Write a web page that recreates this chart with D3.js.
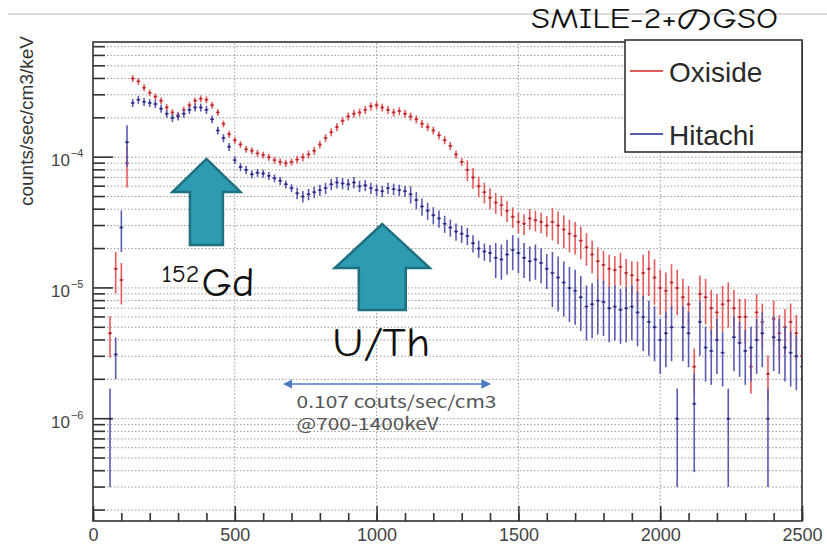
<!DOCTYPE html>
<html>
<head>
<meta charset="utf-8">
<script src="https://cdn.jsdelivr.net/npm/d3@7"></script>
<style>
  body { margin: 0; background: #fff; }
  svg { display: block; }
</style>
</head>
<body>
<div id="chart"></div>
<script>
// Bin centres in keV (20 keV bins)
const binCenters = d3.range(60, 2501, 20);

// Rates, in units of 1e-5 counts/sec/cm3/keV
const oxisideRate = [
  0.45, 1.4, 1.15, 9.0, 40, 38, 34, 31, 29, 27,
  24, 22, 21, 23, 25, 27, 28, 27.5, 25, 22,
  18, 15, 13.5, 12.5, 11.5, 11.2, 10.7, 10.4, 10.0, 9.5,
  9.2, 9.0, 9.2, 9.6, 10.0, 10.5, 11.2, 12.5, 14.0, 15.5,
  17, 19, 20.5, 21.5, 22, 23, 24.5, 25, 24, 23,
  22, 22.5, 21.5, 20.5, 19.5, 18, 17, 16, 14.7, 13.5,
  12.2, 10.5, 9.2, 8.0, 7.0, 6.0, 5.4, 4.9, 4.5, 4.3,
  3.9, 3.5, 3.2, 3.1, 3.4, 3.3, 3.2, 3.0, 3.2, 3.0,
  2.8, 2.6, 2.5, 2.3, 2.05, 1.8, 1.6, 1.5, 1.4, 1.37,
  1.45, 1.3, 1.25, 1.15, 1.3, 1.4, 1.2, 1.0, 0.95, 1.1,
  1.0, 0.85, 0.75, 0.25, 0.9, 0.85, 0.7, 0.65, 0.75, 0.8,
  0.7, 0.6, 0.6, 0.25, 0.65, 0.55, 0.22, 0.58, 0.45, 0.5,
  0.55, 0.45, 0.3
];
const hitachiRate = [
  0.1, 0.31, 2.9, 13, 26, 27.5, 26.5, 26, 25.5, 23.5,
  21.5, 20, 20.5, 21.5, 23, 24, 24, 23, 19.5, 16,
  14, 12, 9.5, 8.4, 8.0, 7.4, 7.6, 7.5, 7.2, 6.9,
  6.6, 6.2, 5.8, 5.3, 5.0, 5.2, 5.4, 5.6, 5.8, 6.2,
  6.4, 6.3, 6.2, 6.4, 6.0, 6.1, 5.8, 5.6, 5.5, 5.8,
  5.7, 5.6, 5.5, 5.2, 4.7, 4.2, 3.9, 3.6, 3.4, 3.1,
  2.9, 2.7, 2.6, 2.5, 2.2, 2.0, 1.9, 1.85, 1.7, 1.65,
  1.8, 1.95, 1.85, 1.7, 1.6, 1.65, 1.55, 1.4, 1.3, 1.2,
  1.1, 1.0, 0.95, 0.85, 0.72, 0.75, 0.8, 0.78, 0.7, 0.72,
  0.68, 0.7, 0.72, 0.65, 0.6, 0.55, 0.5, 0.4, 0.45, 0.5,
  0.1, 0.5, 0.45, 0.13, 0.55, 0.35, 0.33, 0.4, 0.32, 0.1,
  0.42, 0.38, 0.33, 0.35, 0.4, 0.45, 0.1, 0.42, 0.4, 0.35,
  0.32, 0.3, 0.25
];

// Relative error bar size by energy range [up to keV, relative error]
const oxisideRelErr = [[130, 0.35], [700, 0.06], [1300, 0.07], [1600, 0.18], [1900, 0.28], [2600, 0.38]];
const hitachiRelErr = [[130, 0.35], [700, 0.07], [1100, 0.10], [1400, 0.15], [1600, 0.30], [2600, 0.45]];

const xMajorTicks = [0, 500, 1000, 1500, 2000, 2500];
const xGridTicks = [500, 1000, 1500, 2000];
const yMajorExponents = [-6, -5, -4];
const seriesNames = ["Oxiside", "Hitachi"];


/*******************************/
/*    Declare the constants    */
/*******************************/
const width = 827;
const height = 549;
const margin = {top: 42, right: 25, bottom: 28, left: 93};
const innerWidth = width - margin.left - margin.right;
const innerHeight = height - margin.top - margin.bottom;

const redBar = "#e65a5c", redDot = "#b52a2e";
const blueBar = "#5a5ab2", blueDot = "#2c2c82";
const arrowFill = "#2d9bb1", arrowStroke = "#1e6f80";
const axisColor = "#333";
const comicFont = "'Comic Sans MS', 'Comic Neue', 'DejaVu Sans', sans-serif";


/*******************************/
/*    Append the containers    */
/*******************************/
const svg = d3.select("#chart")
  .append("svg")
    .attr("width", width)
    .attr("height", height)
    .style("font-family", "'Liberation Sans', Arial, sans-serif");

// slide header rule
svg.append("line")
  .attr("x1", 8).attr("x2", width)
  .attr("y1", 14).attr("y2", 14)
  .attr("stroke", "#cfcfcf")
  .attr("stroke-width", 1.5);

svg.append("text")
  .text("SMILE-2+のGSO")
  .attr("x", 531)
  .attr("y", 28)
  .attr("font-family", comicFont)
  .attr("font-size", 29)
  .attr("textLength", 247)
  .attr("lengthAdjust", "spacingAndGlyphs")
  .attr("fill", "#111");


/****************************/
/*    Declare the scales    */
/****************************/
const xScale = d3.scaleLinear()
  .domain([0, 2500])
  .range([margin.left, margin.left + innerWidth]);

const yScale = d3.scaleLog()
  .domain([1.65e-7, 7.6e-4])
  .range([margin.top + innerHeight, margin.top]);

const [yMin, yMax] = yScale.domain();


/**************************/
/*      Add the grid      */
/**************************/
const yGridValues = [];
d3.range(-7, -3).forEach(e => {
  d3.range(1, 10).forEach(k => {
    const v = k * Math.pow(10, e);
    if (v > yMin && v < yMax) yGridValues.push(v);
  });
});

const grid = svg.append("g")
  .attr("stroke", "#9a9a9a")
  .attr("stroke-width", 1)
  .attr("stroke-dasharray", "1.5,2");

grid.selectAll(".hgrid")
  .data(yGridValues)
  .join("line")
    .attr("x1", xScale(0))
    .attr("x2", xScale(2500))
    .attr("y1", d => yScale(d))
    .attr("y2", d => yScale(d));

grid.selectAll(".vgrid")
  .data(xGridTicks)
  .join("line")
    .attr("x1", d => xScale(d))
    .attr("x2", d => xScale(d))
    .attr("y1", yScale(yMin))
    .attr("y2", yScale(yMax));


/******************************/
/*      Add the spectra       */
/******************************/
svg.append("clipPath")
    .attr("id", "plot-clip")
  .append("rect")
    .attr("x", xScale(0))
    .attr("y", yScale(yMax))
    .attr("width", innerWidth)
    .attr("height", innerHeight);

const relErrAt = (table, keV, v) => {
  if (v < 0.2) return 0.7;
  return table.find(r => keV <= r[0])[1];
};

const drawSeries = (rates, errTable, barColor, dotColor) => {
  const points = binCenters.map((c, i) => {
    const v = rates[i] * 1e-5;
    const err = v * relErrAt(errTable, c, rates[i]);
    return {c, v, hi: v + err, lo: Math.max(v - err, yMin * 0.5)};
  });

  const g = svg.append("g")
    .attr("clip-path", "url(#plot-clip)");

  g.selectAll(".ebar")
    .data(points)
    .join("line")
      .attr("x1", d => xScale(d.c))
      .attr("x2", d => xScale(d.c))
      .attr("y1", d => yScale(d.hi))
      .attr("y2", d => yScale(d.lo))
      .attr("stroke", barColor)
      .attr("stroke-width", 1.6);

  g.selectAll(".hbar")
    .data(points)
    .join("line")
      .attr("x1", d => xScale(d.c - 7))
      .attr("x2", d => xScale(d.c + 7))
      .attr("y1", d => yScale(d.v))
      .attr("y2", d => yScale(d.v))
      .attr("stroke", barColor)
      .attr("stroke-width", 1.4);

  g.selectAll(".dot")
    .data(points)
    .join("circle")
      .attr("cx", d => xScale(d.c))
      .attr("cy", d => yScale(d.v))
      .attr("r", 1.2)
      .attr("fill", dotColor);
};

drawSeries(oxisideRate, oxisideRelErr, redBar, redDot);
drawSeries(hitachiRate, hitachiRelErr, blueBar, blueDot);


/**************************/
/*      Add the axes      */
/**************************/
// frame
svg.append("rect")
  .attr("x", xScale(0))
  .attr("y", yScale(yMax))
  .attr("width", innerWidth)
  .attr("height", innerHeight)
  .attr("fill", "none")
  .attr("stroke", axisColor)
  .attr("stroke-width", 1.6);

// x minor ticks (inward)
const bottom = yScale(yMin);
const xMinorAxis = d3.axisBottom(xScale)
  .tickValues(d3.range(0, 2501, 100))
  .tickSize(-8)
  .tickFormat("");
svg.append("g")
    .attr("transform", `translate(0, ${bottom})`)
    .call(xMinorAxis)
    .call(g => g.select(".domain").remove())
    .call(g => g.selectAll("line").attr("stroke", axisColor).attr("stroke-width", 1.6));

// x major ticks + labels
const xMajorAxis = d3.axisBottom(xScale)
  .tickValues(xMajorTicks)
  .tickSize(-15)
  .tickPadding(0)
  .tickFormat(d3.format("d"));
svg.append("g")
    .attr("transform", `translate(0, ${bottom})`)
    .call(xMajorAxis)
    .call(g => g.select(".domain").remove())
    .call(g => g.selectAll("line").attr("stroke", axisColor).attr("stroke-width", 1.6))
    .call(g => g.selectAll("text")
      .attr("y", 20)
      .attr("dy", 0)
      .attr("font-size", 18)
      .attr("font-family", "'Liberation Sans', Arial, sans-serif")
      .attr("fill", "#444"));

// y ticks
const left = xScale(0);
const yTicks = svg.append("g")
  .attr("stroke", axisColor)
  .attr("stroke-width", 1.6);
yTicks.selectAll("line")
  .data(yGridValues)
  .join("line")
    .attr("x1", left)
    .attr("x2", d => {
      const isMajor = Math.abs(Math.log10(d) - Math.round(Math.log10(d))) < 1e-9;
      return left + (isMajor ? 20 : 12);
    })
    .attr("y1", d => yScale(d))
    .attr("y2", d => yScale(d));

// y labels 10^n
const yLabels = svg.append("g")
  .attr("fill", "#444");
yMajorExponents.forEach(e => {
  const t = yLabels.append("text")
    .attr("x", 51)
    .attr("y", yScale(Math.pow(10, e)) + 9)
    .attr("font-size", 17);
  t.append("tspan").text("10");
  t.append("tspan")
    .text("\u2212" + Math.abs(e))
    .attr("dx", 1)
    .attr("dy", -9)
    .attr("font-size", 11);
});

// y title
svg.append("text")
  .text("counts/sec/cm3/keV")
  .attr("transform", "translate(33, 36) rotate(-90)")
  .attr("text-anchor", "end")
  .attr("font-size", 19)
  .attr("fill", "#333");


/**************************/
/*      Add the legend    */
/**************************/
const legend = svg.append("g");
legend.append("rect")
  .attr("x", 625)
  .attr("y", 40)
  .attr("width", xScale(2500) - 625)
  .attr("height", 112)
  .attr("fill", "#fff")
  .attr("stroke", axisColor)
  .attr("stroke-width", 1.6);

[redBar, blueBar].forEach((color, i) => {
  const ly = 71 + i * 63;
  legend.append("line")
    .attr("x1", 630).attr("x2", 663)
    .attr("y1", ly).attr("y2", ly)
    .attr("stroke", color)
    .attr("stroke-width", 1.8);
  legend.append("text")
    .text(seriesNames[i])
    .attr("x", 669)
    .attr("y", ly + 11)
    .attr("font-size", 28)
    .attr("fill", "#2a2a2a");
});


/******************************/
/*      Add annotations       */
/******************************/
const upArrow = (tipX, tipY, headHalf, headH, shaftHalf, length) => {
  const p = d3.path();
  p.moveTo(tipX, tipY);
  p.lineTo(tipX + headHalf, tipY + headH);
  p.lineTo(tipX + shaftHalf, tipY + headH);
  p.lineTo(tipX + shaftHalf, tipY + length);
  p.lineTo(tipX - shaftHalf, tipY + length);
  p.lineTo(tipX - shaftHalf, tipY + headH);
  p.lineTo(tipX - headHalf, tipY + headH);
  p.closePath();
  return p.toString();
};

// 152Gd arrow
const gdX = xScale(400), gdY = yScale(9.7e-5);
svg.append("path")
  .attr("d", upArrow(gdX, gdY, 34, 33, 16.5, 86))
  .attr("fill", arrowFill)
  .attr("stroke", arrowStroke)
  .attr("stroke-width", 2.5)
  .attr("stroke-linejoin", "miter");

svg.append("text")
  .text("152")
  .attr("x", gdX - 45)
  .attr("y", gdY + 123)
  .attr("font-family", comicFont)
  .attr("font-size", 24)
  .attr("textLength", 38)
  .attr("lengthAdjust", "spacingAndGlyphs")
  .attr("fill", "#111");
svg.append("text")
  .text("Gd")
  .attr("x", gdX - 5)
  .attr("y", gdY + 137)
  .attr("font-family", comicFont)
  .attr("font-size", 40)
  .attr("textLength", 53)
  .attr("lengthAdjust", "spacingAndGlyphs")
  .attr("fill", "#111");

// U/Th arrow
const uthX = xScale(1020), uthY = yScale(3.08e-5);
svg.append("path")
  .attr("d", upArrow(uthX, uthY, 47.5, 44, 23.5, 86))
  .attr("fill", arrowFill)
  .attr("stroke", arrowStroke)
  .attr("stroke-width", 2.5);

svg.append("text")
  .text("U/Th")
  .attr("x", uthX - 50)
  .attr("y", uthY + 132)
  .attr("font-family", comicFont)
  .attr("font-size", 40)
  .attr("textLength", 98)
  .attr("lengthAdjust", "spacingAndGlyphs")
  .attr("fill", "#111");

// 700-1400 keV range arrow
const rangeY = yScale(1.84e-6);
const rangeColor = "#4a7bc4";
const defs = svg.append("defs");
["start", "end"].forEach(kind => {
  defs.append("marker")
      .attr("id", `head-${kind}`)
      .attr("viewBox", "0 0 10 10")
      .attr("refX", kind === "end" ? 9 : 1)
      .attr("refY", 5)
      .attr("markerWidth", 6)
      .attr("markerHeight", 6)
      .attr("orient", "auto-start-reverse")
    .append("path")
      .attr("d", "M0,0 L10,5 L0,10 z")
      .attr("fill", rangeColor);
});
svg.append("line")
  .attr("x1", xScale(700))
  .attr("x2", xScale(1400))
  .attr("y1", rangeY)
  .attr("y2", rangeY)
  .attr("stroke", rangeColor)
  .attr("stroke-width", 1.6)
  .attr("marker-start", "url(#head-start)")
  .attr("marker-end", "url(#head-end)");

svg.append("text")
  .text("0.107 couts/sec/cm3")
  .attr("x", xScale(700) + 5)
  .attr("y", rangeY + 24)
  .attr("font-family", "'Noto Sans CJK JP', 'Noto Sans', sans-serif")
  .attr("font-size", 17)
  .attr("textLength", 200)
  .attr("lengthAdjust", "spacingAndGlyphs")
  .attr("fill", "#555");
svg.append("text")
  .text("@700-1400keV")
  .attr("x", xScale(700) + 5)
  .attr("y", rangeY + 46)
  .attr("font-family", "'Noto Sans CJK JP', 'Noto Sans', sans-serif")
  .attr("font-size", 17)
  .attr("textLength", 142)
  .attr("lengthAdjust", "spacingAndGlyphs")
  .attr("fill", "#555");
</script>
</body>
</html>
